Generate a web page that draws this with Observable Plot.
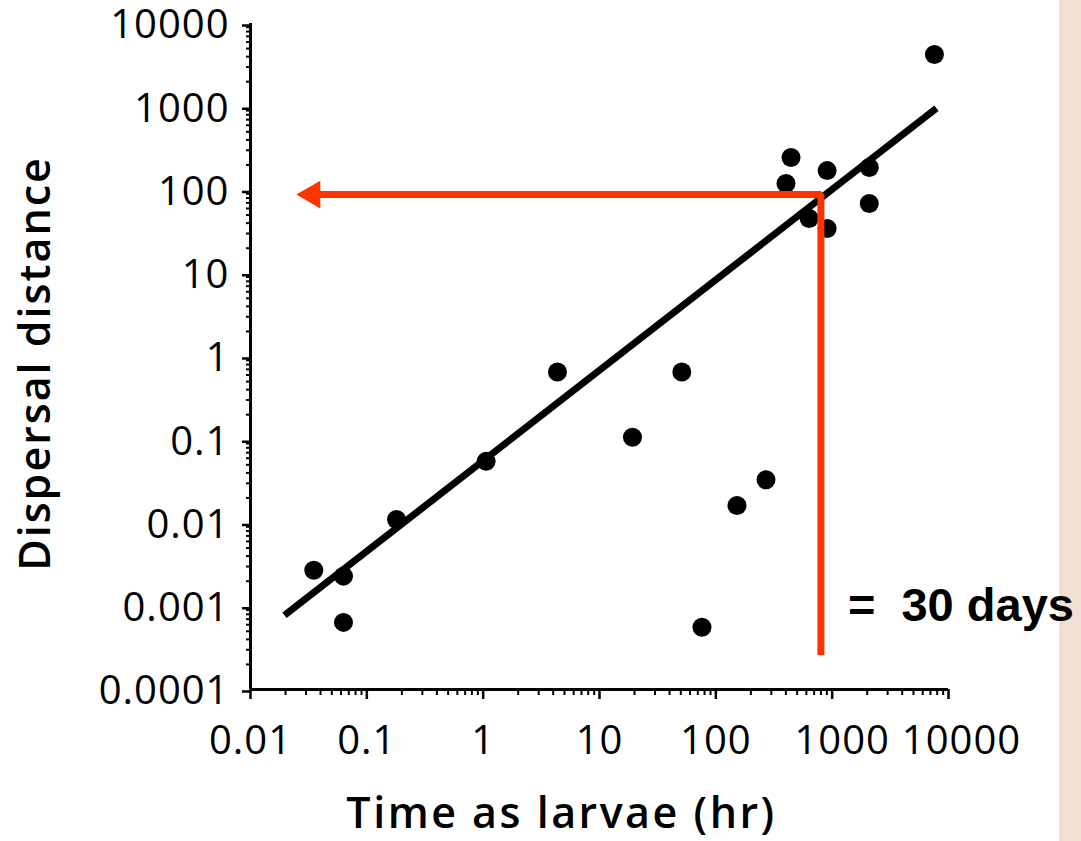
<!DOCTYPE html>
<html><head><meta charset="utf-8">
<script src="https://cdn.jsdelivr.net/npm/d3@7"></script>
<script src="https://cdn.jsdelivr.net/npm/@observablehq/plot@0.6"></script>
<style>
html,body{margin:0;padding:0;background:#fff;}
#chart{width:1081px;height:841px;background:linear-gradient(to right,#ffffff 0,#ffffff 1059px,#f0dfd2 1059px,#f0dfd2 1081px);}
#chart svg{background:transparent;overflow:visible;}
#chart g[aria-label="y-axis tick label"] text,#chart g[aria-label="x-axis tick label"] text,#chart .ticklab text{letter-spacing:1px;}
#chart .xtitle text{letter-spacing:2.5px;}
#chart .ytitle text{letter-spacing:2px;}
</style></head><body><div id="chart"></div>
<script>
// data
const larvalHours   = [0.035, 0.063, 0.063, 0.18, 1.06, 4.35, 19.2, 51, 76, 152, 270, 401, 443, 634, 905, 905, 2084, 2084, 7570];
const dispersalDist = [0.0027, 0.0023, 0.00064, 0.011, 0.055, 0.65, 0.107, 0.65, 0.00056, 0.0162, 0.033, 120, 246, 45.5, 171, 34.5, 186, 69, 4246];
// fitted regression line end points
const fitHours = [0.0196, 7880];
const fitDist  = [0.00078, 960];
// 30-day guide
const guideHours = 800;
const guideDist = 88;
const guideBottom = 0.00026;
const arrowHours = 0.034;
const annotDist = 0.001;
const annotText = "= \u00a030 days";
// tick labels
const xTickValues = [0.01, 0.1, 1, 10, 100, 1000, 10000];
const xTickLabels = ["0.01", "0.1", "1", "10", "100", "1000", "10000"];
const yTickValues = [0.0001, 0.001, 0.01, 0.1, 1, 10, 100, 1000, 10000];
const yTickLabels = ["0.0001", "0.001", "0.01", "0.1", "1", "10", "100", "1000", "10000"];
const xTitle = "Time as larvae (hr)";
const yTitle = "Dispersal distance";

const minorOf = (majors) => majors.slice(0, -1).flatMap(m => [2,3,4,5,6,7,8,9].map(k => m * k));
const points = larvalHours.map((h, i) => ({h, d: dispersalDist[i]}));
const fit = fitHours.map((h, i) => ({h, d: fitDist[i]}));
const guide = [{h: arrowHours, d: guideDist}, {h: guideHours, d: guideDist}, {h: guideHours, d: guideBottom}];
const xLab = new Map(xTickValues.map((v, i) => [v, xTickLabels[i]]));
const yLab = new Map(yTickValues.map((v, i) => [v, yTickLabels[i]]));
const RED = "#ff3300";
const xShift = new Map([[1000, 10], [10000, 13]]);

const chart = Plot.plot({
  width: 1081, height: 841,
  marginLeft: 250, marginRight: 133, marginTop: 23, marginBottom: 152,
  style: {fontFamily: "'Open Sans', sans-serif", color: "black", background: "transparent"},
  x: {type: "log", domain: [0.01, 10000], axis: null},
  y: {type: "log", domain: [0.0001, 10000], axis: null},
  marks: [
    // minor ticks
    Plot.axisY(minorOf(yTickValues), {label: null, tickSize: 4, strokeWidth: 2, tickFormat: () => ""}),
    Plot.axisX(minorOf(xTickValues), {label: null, tickSize: 6, strokeWidth: 2, tickFormat: () => ""}),
    // major ticks + labels
    Plot.axisY(yTickValues, {label: null, tickSize: 8, strokeWidth: 2.5, tickPadding: 13, fontSize: 40, dy: 2, tickFormat: v => yLab.get(v)}),
    Plot.axisX(xTickValues.slice(0, 5), {label: null, tickSize: 10, strokeWidth: 2.5, tickPadding: 26, fontSize: 40, tickFormat: v => xLab.get(v)}),
    Plot.axisX(xTickValues.slice(5), {label: null, tickSize: 10, strokeWidth: 2.5, tickFormat: () => ""}),
    Plot.text([1000], {x: d => d, frameAnchor: "bottom", dy: 36, dx: 10, lineAnchor: "top", textAnchor: "middle", fontSize: 40, text: v => xLab.get(v), className: "ticklab"}),
    Plot.text([10000], {x: d => d, frameAnchor: "bottom", dy: 36, dx: 13, lineAnchor: "top", textAnchor: "middle", fontSize: 40, text: v => xLab.get(v), className: "ticklab"}),
    // axis lines
    Plot.ruleX([0.01], {y1: 0.0001, y2: 10000, strokeWidth: 3}),
    Plot.ruleY([0.0001], {x1: 0.01, x2: 10000, strokeWidth: 3}),
    // axis titles
    Plot.text([yTitle], {frameAnchor: "left", rotate: -90, textAnchor: "middle", lineAnchor: "middle", dx: -214, dy: 7, fontSize: 43, fontWeight: 600, text: d => d, className: "ytitle"}),
    Plot.text([xTitle], {frameAnchor: "bottom", textAnchor: "middle", lineAnchor: "middle", dx: -38, dy: 125, fontSize: 43, fontWeight: 600, text: d => d, className: "xtitle"}),
    // data
    Plot.line(fit, {x: "h", y: "d", stroke: "black", strokeWidth: 7, strokeLinecap: "butt"}),
    Plot.dot(points, {x: "h", y: "d", r: 9.5, fill: "black", stroke: "none"}),
    // 30-day guide
    Plot.line(guide, {x: "h", y: "d", stroke: RED, strokeWidth: 7, strokeLinejoin: "miter", strokeLinecap: "butt"}),
    Plot.dot([{h: arrowHours, d: guideDist}], {x: "h", y: "d", symbol: "triangle", rotate: -90, r: 10.3, fill: RED, stroke: "none"}),
    Plot.text([{h: guideHours, d: annotDist}], {x: "h", y: "d", text: () => annotText, textAnchor: "start", dx: 27, fontSize: 47, fontWeight: "bold", fontFamily: "'Liberation Sans', Arial, sans-serif", fill: "black"})
  ]
});
document.getElementById("chart").appendChild(chart);
</script></body></html>
